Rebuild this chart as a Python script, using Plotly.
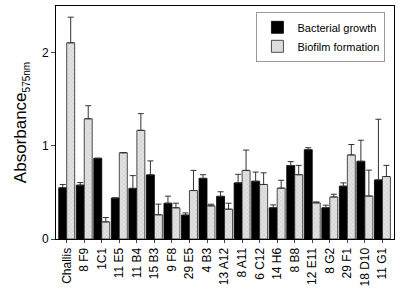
import plotly.graph_objects as go

categories = ["Challis", "8 F9", "1C1", "11 E5", "11 B4", "15 B3", "9 F8", "29 E5", "4 B3",
              "13 A12", "8 A11", "6 C12", "14 H6", "8 B8", "12 E11", "8 G2", "29 F1", "18 D10", "11 G1"]
growth = [0.55, 0.578, 0.866, 0.44, 0.543, 0.688, 0.384, 0.257, 0.651,
          0.458, 0.602, 0.62, 0.335, 0.789, 0.958, 0.335, 0.567, 0.834, 0.634]
growth_err = [0.035, 0.028, 0.0, 0.0, 0.137, 0.15, 0.076, 0.023, 0.039,
              0.049, 0.092, 0.098, 0.031, 0.041, 0.021, 0.028, 0.035, 0.226, 0.651]
biofilm = [2.105, 1.29, 0.184, 0.926, 1.166, 0.26, 0.335, 0.52, 0.356,
           0.32, 0.736, 0.585, 0.546, 0.69, 0.388, 0.451, 0.902, 0.461, 0.67]
biofilm_err = [0.275, 0.14, 0.046, 0.0, 0.179, 0.114, 0.049, 0.216, 0.017,
               0.064, 0.218, 0.125, 0.084, 0.1, 0.01, 0.029, 0.112, 0.278, 0.12]

font = "Arial, Liberation Sans, sans-serif"

fig = go.Figure()
fig.add_trace(go.Bar(
    x=categories, y=growth, name="Bacterial growth",
    marker=dict(color="black", line=dict(color="black", width=0.8)),
    error_y=dict(type="data", array=growth_err, arrayminus=[0]*len(growth_err), symmetric=False,
                 color="#333333", thickness=1, width=3),
))
fig.add_trace(go.Bar(
    x=categories, y=biofilm, name="Biofilm formation",
    marker=dict(color="#d0d0d0", line=dict(color="#222222", width=0.8),
                pattern=dict(shape="x", size=3, solidity=0.2, fgcolor="#9a9a9a", bgcolor="#e2e2e2")),
    error_y=dict(type="data", array=biofilm_err, arrayminus=[0]*len(biofilm_err), symmetric=False,
                 color="#333333", thickness=1, width=3),
))

fig.update_layout(
    width=400, height=292,
    margin=dict(l=56, r=5, t=6, b=49),
    paper_bgcolor="white", plot_bgcolor="white",
    barmode="group", bargap=0.09, bargroupgap=0,
    font=dict(family=font, size=12, color="black"),
    showlegend=True,
    legend=dict(x=0.593, y=0.975, xanchor="left", yanchor="top",
                bgcolor="white", bordercolor="#999999", borderwidth=1,
                font=dict(size=11), tracegroupgap=0, itemwidth=30),
    xaxis=dict(range=[-0.61, 18.66], tickangle=-90, ticks="outside", ticklen=3,
               showline=True, linecolor="black", linewidth=1, mirror=True,
               tickfont=dict(size=12), showgrid=False),
    yaxis=dict(range=[0, 2.5], tickvals=[0, 1, 2], ticktext=["0", "1", "2"],
               ticks="outside", ticklen=4, showline=True, linecolor="black", linewidth=1,
               mirror=True, showgrid=False, zeroline=False, tickfont=dict(size=12),
               title=dict(text="Absorbance<sub><span style='font-size:10px'>575nm</span></sub>",
                          font=dict(size=17), standoff=10)),
)

fig.write_html("out.html", config={"displayModeBar": False},
               post_script="document.body.style.margin='0';document.body.style.padding='0';document.body.style.overflow='hidden';")
